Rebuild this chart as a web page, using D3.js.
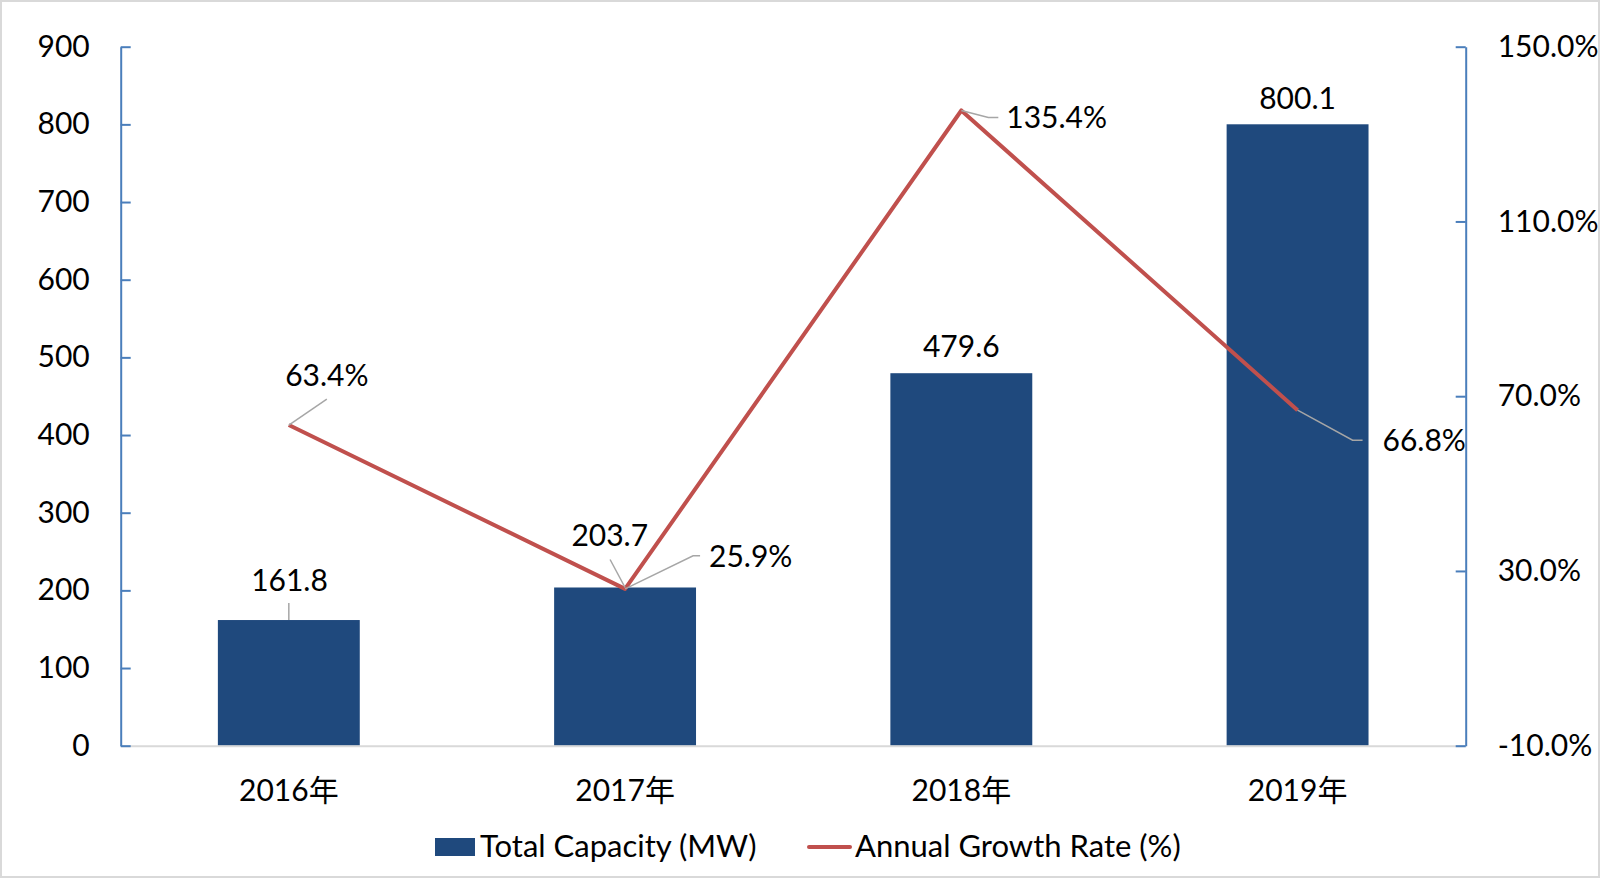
<!DOCTYPE html>
<html>
<head>
<meta charset="utf-8">
<script src="https://cdn.jsdelivr.net/npm/d3@7"></script>
<style>
  body { margin: 0; background: #fff; }
  text { font-family: Lato, "Noto Sans CJK SC", sans-serif; fill: #000; }
</style>
</head>
<body>
<script>
var width = 1601;
var height = 879;
var margin = { top: 46.7, bottom: 133.3, left: 120.7, right: 135.3 };
var fontSize = "30px";

// data
var years = ["2016年", "2017年", "2018年", "2019年"];
var capacity = [161.8, 203.7, 479.6, 800.1];
var growth = [63.4, 25.9, 135.4, 66.8];
var capTicks = [0, 100, 200, 300, 400, 500, 600, 700, 800, 900];
var rateTicks = [-10, 30, 70, 110, 150];
var seriesNames = ["Total Capacity (MW)", "Annual Growth Rate (%)"];

// label placement relative to the mark (px)
var capLabelPos = [
  { dx: 0.7, dy: -29, leader: [[0, 0], [0, -17]] },
  { dx: -15.3, dy: -41, leader: [[0, 0], [-15, -28]] },
  { dx: 0, dy: -16 },
  { dx: 0, dy: -15 }
];
var rateLabelPos = [
  { dx: 38, dy: -39, anchor: "middle", leader: [[0, 0], [38, -26]] },
  { dx: 84, dy: -22, anchor: "start", leader: [[0, 0], [68, -33], [75, -33]] },
  { dx: 45, dy: 18, anchor: "start", leader: [[0, 0], [27, 7], [37, 7]] },
  { dx: 85, dy: 41, anchor: "start", leader: [[0, 0], [55, 30], [65, 30]] }
];

var barColor = "#1f497d";
var lineColor = "#c0504d";
var axisColor = "#4a7ebb";
var leaderColor = "#a6a6a6";

var svg = d3
  .select("body")
  .append("svg")
  .attr("width", width)
  .attr("height", height);

// outer frame
svg
  .append("rect")
  .attr("x", 1)
  .attr("y", 1)
  .attr("width", width - 3)
  .attr("height", height - 3)
  .attr("fill", "none")
  .attr("stroke", "#d9d9d9")
  .attr("stroke-width", 2);

var xScale = d3
  .scaleBand()
  .domain(years)
  .range([margin.left, width - margin.right])
  .paddingInner(0.578)
  .paddingOuter(0.289);

var yScale = d3
  .scaleLinear()
  .domain([0, 900])
  .range([height - margin.bottom, margin.top]);

var y2Scale = d3
  .scaleLinear()
  .domain([-10, 150])
  .range([height - margin.bottom, margin.top]);

var cx = function (i) {
  return xScale(years[i]) + xScale.bandwidth() / 2;
};

// bars
svg
  .append("g")
  .selectAll("rect")
  .data(capacity)
  .join("rect")
  .attr("x", (d, i) => xScale(years[i]))
  .attr("y", (d) => yScale(d))
  .attr("width", xScale.bandwidth())
  .attr("height", (d) => yScale(0) - yScale(d))
  .attr("fill", barColor);

// x axis
var gx = svg
  .append("g")
  .attr("transform", "translate(0," + yScale(0) + ")")
  .call(d3.axisBottom(xScale).tickSize(0).tickSizeOuter(0));
gx.select(".domain").attr("stroke", "#d9d9d9").attr("stroke-width", 2);
gx.selectAll("text")
  .attr("y", 55)
  .attr("dy", 0)
  .attr("font-size", fontSize)
  .attr("fill", "#000");

// left axis
var gy = svg
  .append("g")
  .attr("transform", "translate(" + margin.left + ",0)")
  .call(
    d3.axisLeft(yScale).tickValues(capTicks).tickSize(-10).tickSizeOuter(0).tickPadding(31)
  );
gy.select(".domain").attr("stroke", axisColor).attr("stroke-width", 2);
gy.selectAll(".tick line").attr("stroke", axisColor).attr("stroke-width", 2);
gy.selectAll("text").attr("font-size", fontSize).attr("fill", "#000");

// right axis
var gy2 = svg
  .append("g")
  .attr("transform", "translate(" + (width - margin.right) + ",0)")
  .call(
    d3
      .axisRight(y2Scale)
      .tickValues(rateTicks)
      .tickSize(-10)
      .tickSizeOuter(0)
      .tickPadding(32)
      .tickFormat((d) => d.toFixed(1) + "%")
  );
gy2.select(".domain").attr("stroke", axisColor).attr("stroke-width", 2);
gy2.selectAll(".tick line").attr("stroke", axisColor).attr("stroke-width", 2);
gy2.selectAll("text").attr("font-size", fontSize).attr("fill", "#000");

// growth line
svg
  .append("path")
  .datum(growth)
  .attr("fill", "none")
  .attr("stroke", lineColor)
  .attr("stroke-width", 4)
  .attr("stroke-linejoin", "round")
  .attr(
    "d",
    d3
      .line()
      .x((d, i) => cx(i))
      .y((d) => y2Scale(d))
  );

// leader lines + labels
var leader = d3.line();
var labels = svg.append("g");

capacity.forEach(function (d, i) {
  var p = capLabelPos[i];
  var x0 = cx(i);
  var y0 = yScale(d);
  if (p.leader) {
    labels
      .append("path")
      .attr("d", leader(p.leader.map((q) => [x0 + q[0], y0 + q[1]])))
      .attr("fill", "none")
      .attr("stroke", leaderColor)
      .attr("stroke-width", 1.5);
  }
  labels
    .append("text")
    .attr("x", x0 + p.dx)
    .attr("y", y0 + p.dy)
    .attr("text-anchor", "middle")
    .attr("font-size", fontSize)
    .text(d.toFixed(1));
});

growth.forEach(function (d, i) {
  var p = rateLabelPos[i];
  var x0 = cx(i);
  var y0 = y2Scale(d);
  labels
    .append("path")
    .attr("d", leader(p.leader.map((q) => [x0 + q[0], y0 + q[1]])))
    .attr("fill", "none")
    .attr("stroke", leaderColor)
    .attr("stroke-width", 1.5);
  labels
    .append("text")
    .attr("x", x0 + p.dx)
    .attr("y", y0 + p.dy)
    .attr("text-anchor", p.anchor)
    .attr("font-size", fontSize)
    .text(d.toFixed(1) + "%");
});

// legend
var legend = svg.append("g").attr("transform", "translate(0,857)");
legend
  .append("rect")
  .attr("x", 435)
  .attr("y", -19)
  .attr("width", 40)
  .attr("height", 18)
  .attr("fill", barColor);
legend
  .append("text")
  .attr("x", 480)
  .attr("y", 0)
  .attr("font-size", "31px")
  .text(seriesNames[0]);
legend
  .append("line")
  .attr("x1", 809)
  .attr("x2", 850)
  .attr("y1", -10)
  .attr("y2", -10)
  .attr("stroke", lineColor)
  .attr("stroke-width", 4)
  .attr("stroke-linecap", "round");
legend
  .append("text")
  .attr("x", 855)
  .attr("y", 0)
  .attr("font-size", "31px")
  .text(seriesNames[1]);
</script>
</body>
</html>
